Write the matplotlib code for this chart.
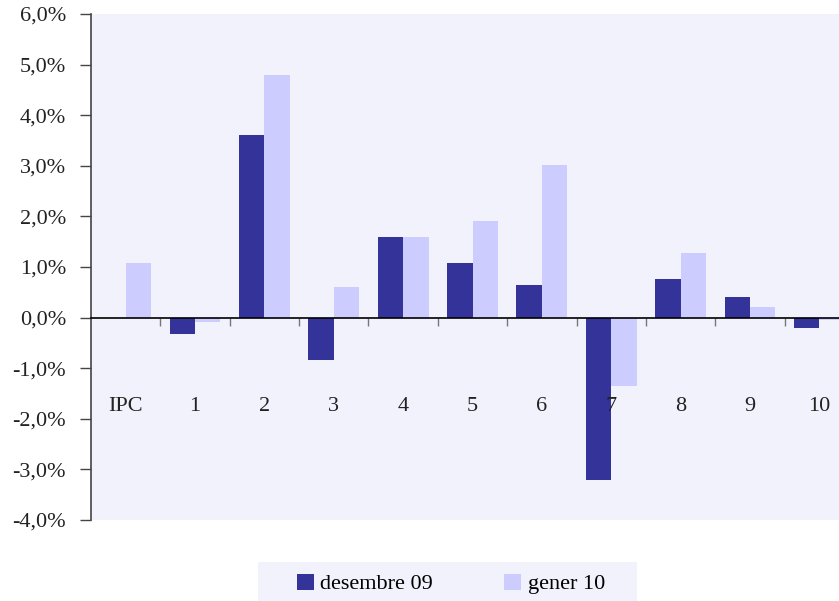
import matplotlib
matplotlib.use('Agg')
import matplotlib.pyplot as plt
from matplotlib.patches import Patch, Rectangle
from matplotlib.ticker import FuncFormatter, FixedLocator
import numpy as np

# Data (percent change)
categories = ['IPC', '1', '2', '3', '4', '5', '6', '7', '8', '9', '10']
desembre_09 = [0.00, -0.32, 3.61, -0.84, 1.59, 1.08, 0.64, -3.21, 0.76, 0.40, -0.20]
gener_10 = [1.08, -0.09, 4.79, 0.60, 1.59, 1.90, 3.01, -1.35, 1.28, 0.21, -0.05]

DARK = '#333399'
LIGHT = '#CCCCFF'
BG = '#F2F2FC'
FS = 16

plt.rcParams['font.family'] = ['Liberation Serif', 'DejaVu Serif']
plt.rcParams['font.size'] = FS

W, H = 839, 601
fig = plt.figure(figsize=(W / 100, H / 100), dpi=100)
fig.patch.set_facecolor('white')

# axes extends past right edge like the original export
ax = fig.add_axes([91 / W, (H - 520) / H, (854 - 91) / W, (520 - 14) / H])
ax.set_facecolor(BG)

x = np.arange(len(categories))
bw = 0.366
ax.bar(x - bw / 2, desembre_09, width=bw, color=DARK, zorder=2)
ax.bar(x + bw / 2, gener_10, width=bw, color=LIGHT, zorder=2)

ax.set_xlim(-0.5, len(categories) - 0.5)
ax.set_ylim(-4, 6)
ax.yaxis.set_major_locator(FixedLocator(np.arange(-4, 7, 1)))
ax.yaxis.set_major_formatter(FuncFormatter(lambda v, p: f'{v:.1f}%'.replace('.', ',')))

for s in ['top', 'right']:
    ax.spines[s].set_visible(False)
ax.spines['left'].set_color('#444444')
ax.spines['left'].set_linewidth(1.2)
ax.spines['bottom'].set_position(('data', 0))
ax.spines['bottom'].set_color('black')
ax.spines['bottom'].set_linewidth(1.2)
ax.spines['bottom'].set_zorder(3)

ax.tick_params(axis='y', direction='out', length=8, width=1, color='#444444',
               pad=10, labelsize=FS, labelcolor='#222222')
ax.set_xticks(np.arange(0.5, len(categories) - 0.5, 1))
ax.tick_params(axis='x', direction='out', length=6, width=1, color='#777777',
               labelbottom=False)

# category labels in a row below the zero line
for i, c in enumerate(categories):
    ax.text(i, -1.76, c, ha='center', va='center', fontsize=FS, color='#222222')

# legend box
fig.patches.append(Rectangle((258 / W, 0), (637 - 258) / W, 39 / H,
                             transform=fig.transFigure, facecolor=BG,
                             edgecolor='none', zorder=0))
handles = [Patch(facecolor=DARK, label='desembre 09'),
           Patch(facecolor=LIGHT, label='gener 10')]
fig.legend(handles=handles, loc='center', bbox_to_anchor=(451 / W, (H - 584) / H),
           ncol=2, frameon=False, fontsize=FS, handlelength=0.75, handleheight=0.75,
           handletextpad=0.3, columnspacing=3.2, borderpad=0)

fig.savefig('out.png', dpi=100, facecolor='white')
